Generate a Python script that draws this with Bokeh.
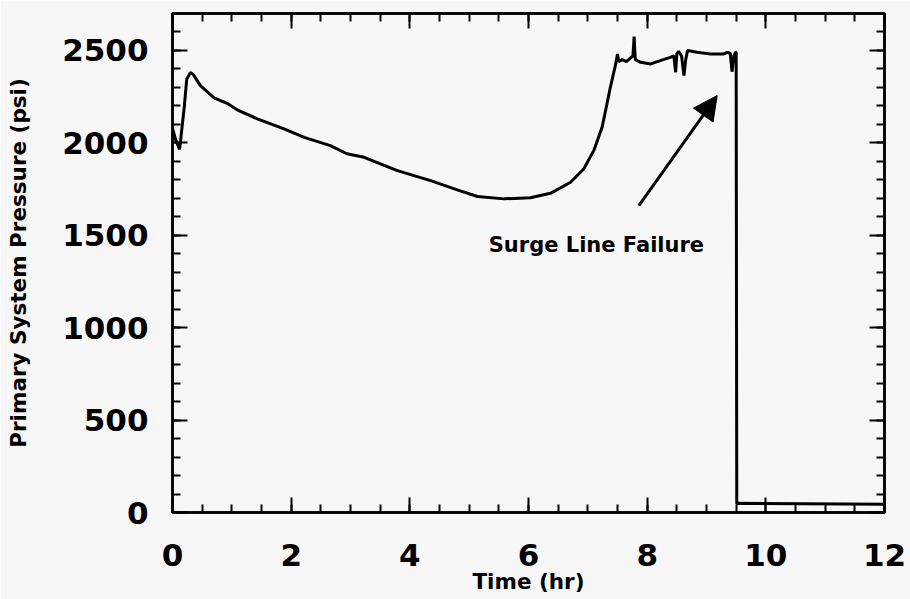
from bokeh.plotting import figure
from bokeh.models import (LinearAxis, SingleIntervalTicker, CustomJSTickFormatter,
                          Range1d, Arrow, NormalHead, Label)
from bokeh.embed import file_html
from bokeh.resources import INLINE

# ---- data ----
time_hr = [0.0, 0.05, 0.12, 0.2, 0.24, 0.3, 0.35, 0.47, 0.7, 0.92, 1.09, 1.43,
           1.88, 2.22, 2.66, 2.94, 3.23, 3.79, 4.35, 4.80, 5.14, 5.59, 6.03,
           6.37, 6.71, 6.93, 7.10, 7.24, 7.38, 7.47, 7.50, 7.52, 7.58, 7.65,
           7.72, 7.76, 7.78, 7.80, 7.89, 8.06, 8.22, 8.39, 8.45, 8.48, 8.50,
           8.53, 8.58, 8.62, 8.65, 8.68, 8.84, 9.07, 9.29, 9.35, 9.40, 9.43,
           9.46, 9.49, 9.50, 9.51, 9.55, 12.0]
pressure_psi = [2080, 2020, 1965, 2200, 2345, 2380, 2370, 2310, 2244, 2214, 2179,
                2130, 2076, 2030, 1985, 1941, 1922, 1850, 1796, 1746, 1710, 1697,
                1703, 1727, 1787, 1859, 1958, 2084, 2301, 2427, 2481, 2440, 2450,
                2440, 2460, 2470, 2575, 2450, 2436, 2427, 2445, 2463, 2470, 2382,
                2480, 2495, 2470, 2364, 2450, 2500, 2490, 2481, 2481, 2490, 2485,
                2385, 2470, 2490, 2490, 48, 50, 45]

annotation_text = "Surge Line Failure"
annotation_pos = (5.33, 1450)
arrow_tail = (7.86, 1661)
arrow_tip = (9.18, 2256)

x_label = "Time (hr)"
y_label = "Primary System Pressure (psi)"

BG = "#f7f7f7"
FONT = "DejaVu Sans"

p = figure(width=910, height=599, output_backend="svg", toolbar_location=None,
           x_range=Range1d(0, 12), y_range=Range1d(0, 2700),
           x_axis_location=None, y_axis_location=None)
p.min_border_left = 172
p.min_border_right = 26
p.min_border_top = 13
p.min_border_bottom = 87
p.background_fill_color = BG
p.border_fill_color = BG
p.outline_line_color = "black"
p.outline_line_width = 2.5
p.grid.visible = False


def style_axis(ax, show_labels):
    ax.axis_line_width = 2.5
    ax.axis_line_color = "black"
    ax.major_tick_in = 15
    ax.major_tick_out = 0
    ax.minor_tick_in = 8
    ax.minor_tick_out = 0
    ax.major_tick_line_width = 2
    ax.minor_tick_line_width = 2
    ax.major_label_text_font = FONT
    ax.major_label_text_font_style = "bold"
    ax.major_label_text_font_size = "31px"
    ax.major_label_text_color = "black"
    ax.axis_label_text_font = FONT
    ax.axis_label_text_font_style = "bold"
    ax.axis_label_text_font_size = "21.5px"
    ax.axis_label_text_color = "black"
    if not show_labels:
        ax.formatter = CustomJSTickFormatter(code="return ''")
        ax.major_label_standoff = 0


xt = SingleIntervalTicker(interval=2, num_minor_ticks=4)
yt = SingleIntervalTicker(interval=500, num_minor_ticks=5)

xb = LinearAxis(ticker=xt, axis_label=x_label)
style_axis(xb, True)
xb.major_label_standoff = 31
xb.axis_label_standoff = 0
p.add_layout(xb, "below")

xa = LinearAxis(ticker=SingleIntervalTicker(interval=2, num_minor_ticks=4))
style_axis(xa, False)
p.add_layout(xa, "above")

yl = LinearAxis(ticker=yt, axis_label=y_label)
style_axis(yl, True)
yl.major_label_standoff = 24
yl.axis_label_standoff = 28
p.add_layout(yl, "left")

yr = LinearAxis(ticker=SingleIntervalTicker(interval=500, num_minor_ticks=5))
style_axis(yr, False)
p.add_layout(yr, "right")

p.line(time_hr, pressure_psi, line_color="black", line_width=3)

p.add_layout(Arrow(end=NormalHead(size=24, fill_color="black", line_color="black"),
                   x_start=arrow_tail[0], y_start=arrow_tail[1],
                   x_end=arrow_tip[0], y_end=arrow_tip[1],
                   line_color="black", line_width=3))

p.add_layout(Label(x=annotation_pos[0], y=annotation_pos[1], text=annotation_text,
                   text_font=FONT, text_font_style="bold", text_font_size="21px",
                   text_color="black", text_baseline="alphabetic", text_align="left"))

open("out.html", "w").write(file_html(p, INLINE))
